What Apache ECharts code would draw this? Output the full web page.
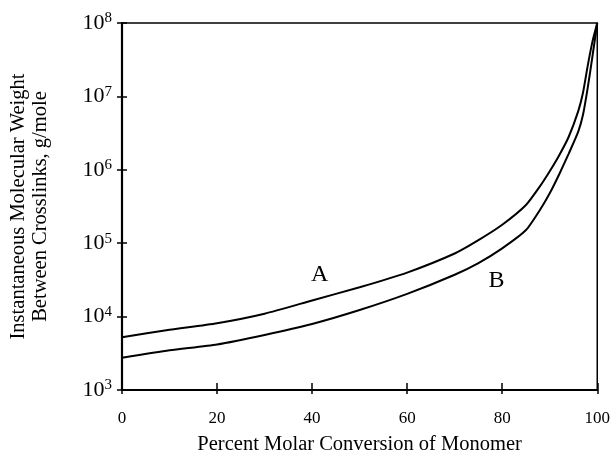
<!DOCTYPE html>
<html><head><meta charset="utf-8">
<script src="https://cdn.jsdelivr.net/npm/echarts@6/dist/echarts.min.js"></script>
<style>html,body{margin:0;padding:0;background:#fff}#c{width:613px;height:461px}</style>
</head><body><div id="c"></div>
<script>
const conversion = [0,10,20,30,40,50,60,70,75,80,85,88,90,92,94,96,97,98,99,100];
const curveA = [5250,6610,8130,10960,16600,25100,39800,72400,110000,178000,331000,603000,955000,1580000,2820000,6310000,11200000,26300000,56200000,100000000];
const curveB = [2750,3470,4170,5620,7940,12300,20400,37200,53700,85100,151000,288000,479000,871000,1660000,3310000,5620000,13200000,35500000,100000000];
const xTicks = [0,20,40,60,80,100];
const yTicks = [1e3,1e4,1e5,1e6,1e7,1e8];
const labelA = {name:'A', x:41.6, y:36900};
const labelB = {name:'B', x:78.8, y:30800};

const FONT = '"Liberation Serif", "DejaVu Serif", serif';
const chart = echarts.init(document.getElementById('c'), null, {renderer:'canvas'});
function pairs(xs, ys){ return xs.map((x,i)=>[x, ys[i]]); }
const yLabelFmt = v => { const e = Math.round(Math.log10(v)); return '{b|10}{s|' + e + '}'; };
const yRich = {
  b:{fontFamily:FONT,fontSize:22,color:'#000'},
  s:{fontFamily:FONT,fontSize:15,color:'#000',verticalAlign:'bottom',padding:[0,0,9,0]}
};
const yBase = {type:'log', logBase:10, min:1e3, max:1e8, gridIndex:0};
chart.setOption({
  animation:false,
  backgroundColor:'#fff',
  grid:{left:122,right:14,top:23,bottom:71,show:true,borderColor:'#000',borderWidth:1.5,backgroundColor:'transparent'},
  xAxis:[{
    type:'value', min:0, max:100, interval:20,
    name:'Percent Molar Conversion of Monomer', nameLocation:'middle', nameGap:44,
    nameTextStyle:{fontFamily:FONT,fontSize:20.5,color:'#000'},
    axisLine:{lineStyle:{color:'#000',width:2.2}},
    axisTick:{show:true,inside:false,length:4,lineStyle:{color:'#000',width:1.5}},
    axisLabel:{fontFamily:FONT,fontSize:17,color:'#000',margin:20,
      formatter:v=> xTicks.includes(v)? String(v):''},
    splitLine:{show:false}
  },{
    type:'value', min:0, max:100, interval:20, position:'bottom',
    axisLine:{show:false}, axisLabel:{show:false}, splitLine:{show:false},
    axisTick:{show:true,inside:true,length:7,lineStyle:{color:'#000',width:1.5}}
  }],
  yAxis:[Object.assign({}, yBase, {
    name:'Instantaneous Molecular Weight\nBetween Crosslinks, g/mole',
    nameLocation:'middle', nameGap:70, nameRotate:90,
    nameTextStyle:{fontFamily:FONT,fontSize:20.5,color:'#000',lineHeight:22},
    axisLine:{lineStyle:{color:'#000',width:2.2}},
    axisTick:{show:true,inside:false,length:5,lineStyle:{color:'#000',width:1.5}},
    axisLabel:{margin:10, formatter:yLabelFmt, rich:yRich},
    splitLine:{show:false}
  }), Object.assign({}, yBase, {
    position:'left',
    axisLine:{show:false}, axisLabel:{show:false}, splitLine:{show:false},
    axisTick:{show:true,inside:true,length:5,lineStyle:{color:'#000',width:1.5}}
  })],
  series:[{
    type:'line', name:'A', data:pairs(conversion, curveA), smooth:0.2, showSymbol:false,
    lineStyle:{color:'#000',width:2}, z:3,
    markPoint:{symbol:'circle',symbolSize:0,silent:true,
      label:{show:true,formatter:labelA.name,fontFamily:FONT,fontSize:24,color:'#000',position:'inside'},
      data:[{coord:[labelA.x,labelA.y]}]}
  },{
    type:'line', name:'B', data:pairs(conversion, curveB), smooth:0.2, showSymbol:false,
    lineStyle:{color:'#000',width:2}, z:3,
    markPoint:{symbol:'circle',symbolSize:0,silent:true,
      label:{show:true,formatter:labelB.name,fontFamily:FONT,fontSize:24,color:'#000',position:'inside'},
      data:[{coord:[labelB.x,labelB.y]}]}
  }]
});
</script></body></html>
